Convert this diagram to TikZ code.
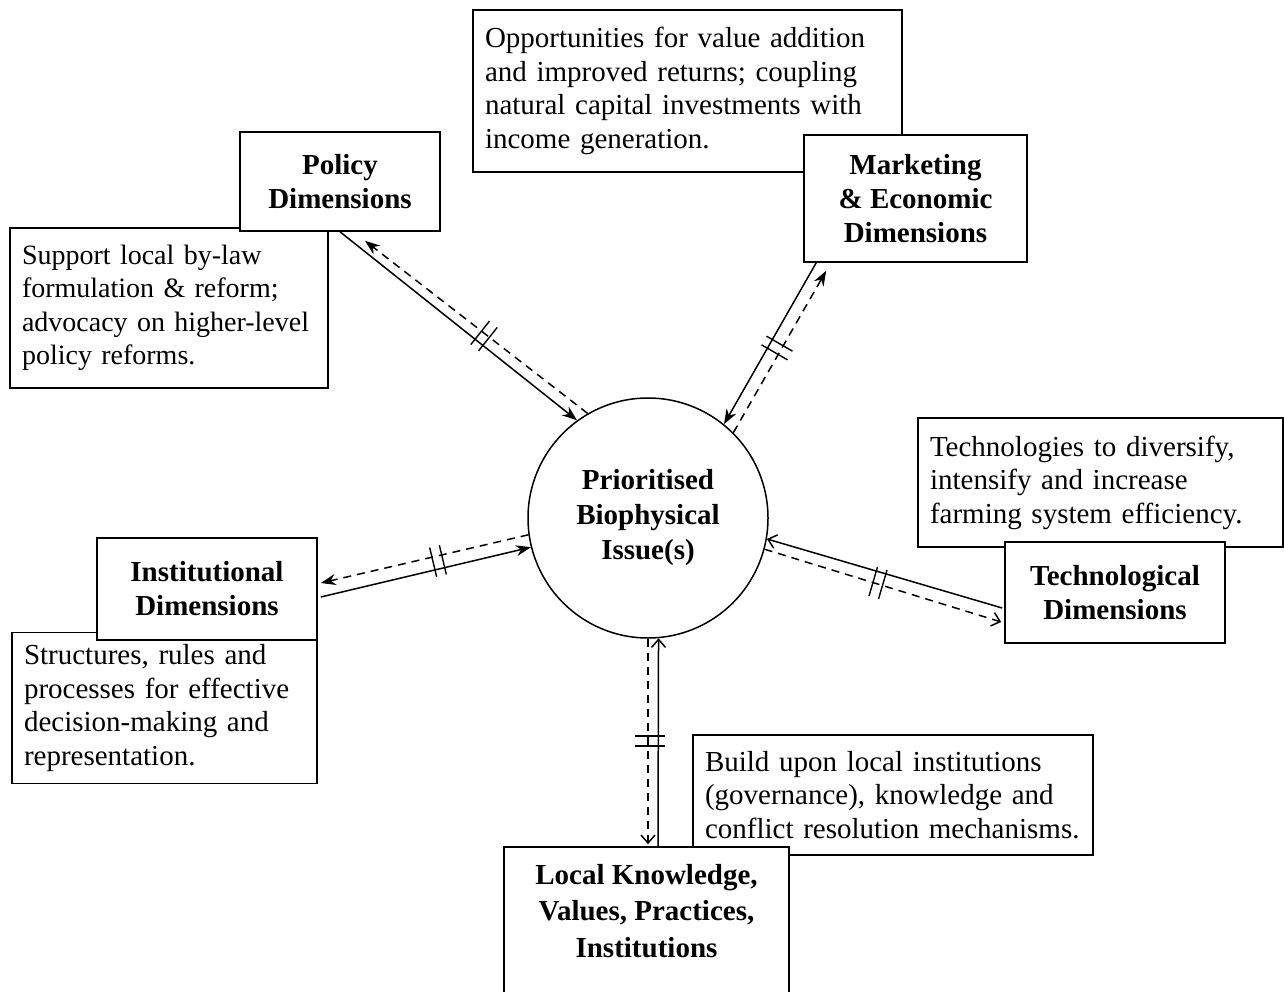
\documentclass[tikz,border=0pt]{standalone}
\usepackage{fontspec}
\setmainfont{Liberation Serif}
\usetikzlibrary{arrows.meta,calc}
\newcommand\brkmark[3]{\begin{scope}[shift={(#1,#2)},rotate=#3]\draw[tickmark] (-5,-15)--(-5,15) (5,-15)--(5,15);\end{scope}}
\begin{document}
\begin{tikzpicture}[x=1pt,y=-1pt,
  note/.style={draw, line width=1.6pt, align=left, inner xsep=12pt, inner ysep=0pt, font=\fontsize{29}{33.5}\selectfont},
  dimbox/.style={draw, fill=white, line width=1.6pt, align=center, inner sep=0pt, font=\bfseries\fontsize{29}{34}\selectfont},
  conn/.style={line width=1.5pt},
  dashc/.style={conn, dash pattern=on 8pt off 6pt},
  fulltip/.style={-{Stealth[length=15pt,width=11pt]}},
  opentip/.style={-{Straight Barb[length=8pt,width=14pt]}},
  tickmark/.style={line width=1.4pt}
]
\useasboundingbox (0,0) rectangle (1284,992);
\clip (0,0) rectangle (1284,992);

% description notes
\node[note, text width=405, minimum height=162] (topnote) at (687.5,91)
  {Opportunities for value addition\\ and improved returns; coupling\\ natural capital investments with\\ income generation.};
\node[note, text width=294, minimum height=160, font=\fontsize{28}{33.5}\selectfont] (polnote) at (169,308)
  {\mbox{Support local by-law}\\ \mbox{formulation \& reform;}\\ \mbox{advocacy on higher-level}\\ \mbox{policy reforms.}};
\node[note, text width=341, minimum height=129] (technote) at (1100.5,482.5)
  {Technologies to diversify,\\ intensify and increase\\ farming system efficiency.};
\node[note, text width=281, minimum height=151] (instnote) at (164.5,708)
  {Structures, rules and\\ processes for effective\\ decision-making and\\ representation.};
\node[note, text width=376, minimum height=120] (locnote) at (893,795)
  {Build upon local institutions\\ (governance), knowledge and\\ conflict resolution mechanisms.};

% dimension boxes
\node[dimbox, minimum width=200, minimum height=99] (pol) at (340,181.5) {Policy\\ Dimensions};
\node[dimbox, minimum width=223, minimum height=127] (mkt) at (915.5,198.5) {Marketing\\ \& Economic\\ Dimensions};
\node[dimbox, minimum width=220, minimum height=101] (tech) at (1115,592.5) {Technological\\ Dimensions};
\node[dimbox, minimum width=220, minimum height=102] (inst) at (207,589) {Institutional\\ Dimensions};
\fill[white] (505,848) rectangle (788,1010);
\node[dimbox, draw=none, fill=none, minimum width=283, minimum height=126, font=\bfseries\fontsize{29}{36.5}\selectfont] (loc) at (646.5,911)
  {Local Knowledge,\\ Values, Practices,\\ Institutions};
\draw[line width=1.6pt] ($(loc.south west)+(0,60)$) -- (loc.north west) -- (loc.north east) -- ($(loc.south east)+(0,60)$);

% central issue
\node[circle, draw, line width=1.5pt, minimum size=240, inner sep=0pt, align=center,
  font=\bfseries\fontsize{29}{35}\selectfont] (c) at (648,518) {Prioritised\\ Biophysical\\ Issue(s)};

% connectors
\draw[conn, fulltip] (pol.south) -- (c.126.5);
\draw[dashc, fulltip] (c.120) -- ($(pol.south)+(25,9)$);

\draw[conn, fulltip] ($(mkt.south west)+(13,0)$) -- (c.51);
\draw[dashc, fulltip] (c.45) -- ($(mkt.south west)+(23,8)$);

\draw[conn, fulltip] ($(inst.east)+(3,8)$) -- (c.194);
\draw[dashc, fulltip] (c.188) -- ($(inst.east)+(3,-6)$);

\draw[conn, opentip] ($(tech.west)+(-2,15.5)$) -- (c.-10);
\draw[dashc, opentip] (c.-15.6) -- ($(tech.west)+(-3,29.5)$);

\draw[conn, opentip] ($(loc.north)+(11.5,0)$) -- (c.-85.2);
\draw[dashc, opentip] (c.-90) -- ($(loc.north)+(1.5,-3)$);

% break marks
\brkmark{484}{336}{-38.6}
\brkmark{777}{348}{60}
\brkmark{438}{561}{13.4}
\brkmark{878}{583}{-16.3}
\brkmark{650}{741}{90}
\end{tikzpicture}
\end{document}
